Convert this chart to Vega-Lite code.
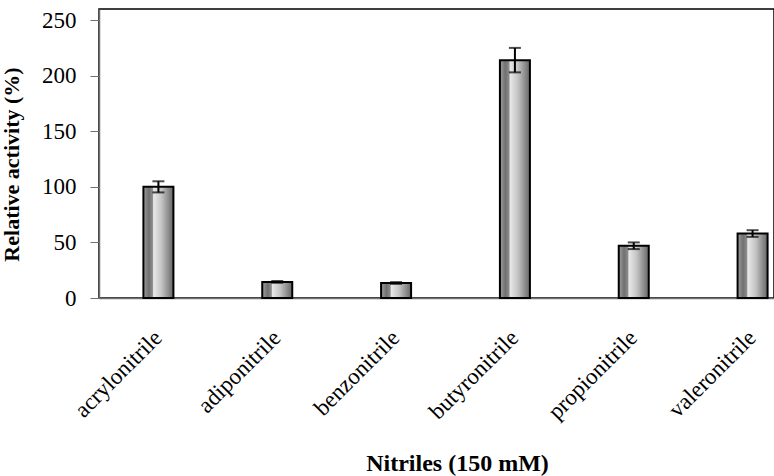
{
  "$schema": "https://vega.github.io/schema/vega-lite/v6.json",
  "width": 675,
  "height": 289,
  "autosize": "none",
  "padding": {"left": 99, "top": 9, "right": 0, "bottom": 178},
  "background": "white",
  "config": {
    "view": {"stroke": "#000", "strokeWidth": 1.5},
    "font": "Liberation Serif",
    "axis": {"grid": false, "domainColor": "#707070", "domainWidth": 1.5, "tickColor": "#707070", "labelColor": "#000", "titleColor": "#000", "labelFont": "Liberation Serif", "titleFont": "Liberation Serif"}
  },
  "data": {
    "values": [
      {"nitrile": "acrylonitrile", "activity": 100, "err": 5},
      {"nitrile": "adiponitrile", "activity": 14.5, "err": 0.8},
      {"nitrile": "benzonitrile", "activity": 13.5, "err": 0.8},
      {"nitrile": "butyronitrile", "activity": 214, "err": 11},
      {"nitrile": "propionitrile", "activity": 47, "err": 3},
      {"nitrile": "valeronitrile", "activity": 58, "err": 3}
    ]
  },
  "transform": [
    {"calculate": "datum.activity - datum.err", "as": "lo"},
    {"calculate": "datum.activity + datum.err", "as": "hi"}
  ],
  "encoding": {
    "x": {
      "field": "nitrile", "type": "nominal", "sort": null,
      "scale": {"range": [0, 713], "paddingInner": 0, "paddingOuter": 0},
      "axis": {"title": "Nitriles (150 mM)", "titleFontSize": 24, "titleFontWeight": "bold", "titleY": 153, "labelAngle": -45, "labelFontSize": 23, "labelPadding": 28, "labelOffset": -8, "ticks": false, "titleX": 358}
    }
  },
  "layer": [
    {
      "mark": {"type": "bar", "size": 30, "stroke": "#000", "strokeWidth": 2,
        "fill": {"gradient": "linear", "x1": 0, "x2": 1, "y1": 0, "y2": 0,
          "stops": [
            {"offset": 0, "color": "#a0a0a0"},
            {"offset": 0.18, "color": "#707070"},
            {"offset": 0.3, "color": "#8a8a8a"},
            {"offset": 0.34, "color": "#e8e8e8"},
            {"offset": 0.6, "color": "#c4c4c4"},
            {"offset": 1, "color": "#666666"}
          ]}},
      "encoding": {
        "y": {"field": "activity", "type": "quantitative",
          "scale": {"domain": [0, 250]},
          "axis": {"title": "Relative activity (%)", "titleFontSize": 22, "titleFontWeight": "bold", "titleX": -76, "titleY": 155, "values": [0, 50, 100, 150, 200, 250], "labelFontSize": 23, "tickSize": 9, "labelPadding": 14}}
      }
    },
    {
      "mark": {"type": "rule", "color": "#000", "strokeWidth": 2},
      "encoding": {"y": {"field": "lo", "type": "quantitative"}, "y2": {"field": "hi"}}
    },
    {
      "mark": {"type": "tick", "color": "#000", "size": 12, "thickness": 2},
      "encoding": {"y": {"field": "lo", "type": "quantitative"}}
    },
    {
      "mark": {"type": "tick", "color": "#000", "size": 12, "thickness": 2},
      "encoding": {"y": {"field": "hi", "type": "quantitative"}}
    }
  ]
}
